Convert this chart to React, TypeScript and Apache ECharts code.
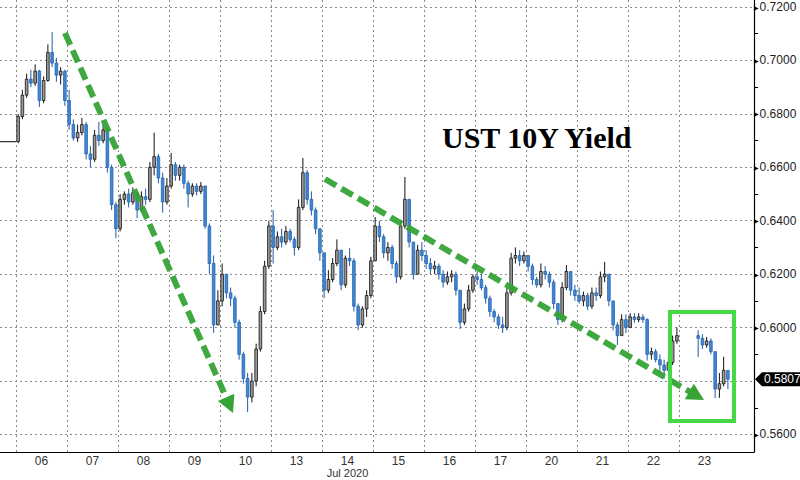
import React, { useEffect, useRef } from 'react';
import * as echarts from 'echarts';

// [close, low, high] per hourly-ish bar; open = previous close. null = no trading.
type Bar = [number, number, number] | null;

const dayLabels = ['06', '07', '08', '09', '10', '13', '14', '15', '16', '17', '20', '21', '22', '23'];
const monthLabel = 'Jul 2020';
const titleText = 'UST 10Y Yield';
const jul03Close = 0.6696;
const lastValue = 0.5807;
const yTicks = [0.56, 0.58, 0.6, 0.62, 0.64, 0.66, 0.68, 0.7, 0.72];
const yMinorTicks = [0.57, 0.59, 0.61, 0.63, 0.65, 0.67, 0.69, 0.71];

const jul06: Bar[] = [
  [0.679, 0.669, 0.68], [0.687, 0.678, 0.689], [0.693, 0.686, 0.695], [0.6915, 0.69, 0.6965],
  [0.696, 0.6905, 0.6985], [0.685, 0.6826, 0.6965], [0.6925, 0.684, 0.694], [0.703, 0.692, 0.706],
  [0.699, 0.6975, 0.7106], [0.6945, 0.692, 0.701], [0.696, 0.691, 0.6975], [0.685, 0.683, 0.6965],
];
const jul07: Bar[] = [
  [0.676, 0.674, 0.689], [0.671, 0.67, 0.678], [0.673, 0.6695, 0.676], [0.676, 0.672, 0.6785],
  [0.665, 0.663, 0.677], [0.663, 0.66, 0.668], [0.672, 0.662, 0.674], [0.67, 0.668, 0.677],
  [0.674, 0.669, 0.676], [0.66, 0.658, 0.675], [0.646, 0.644, 0.661], [0.637, 0.6335, 0.647],
];
const jul08: Bar[] = [
  [0.648, 0.636, 0.65], [0.65, 0.646, 0.651], [0.647, 0.645, 0.652], [0.6505, 0.646, 0.6525],
  [0.644, 0.641, 0.651], [0.649, 0.643, 0.651], [0.648, 0.646, 0.652], [0.66, 0.647, 0.662],
  [0.664, 0.657, 0.673], [0.656, 0.654, 0.665], [0.647, 0.643, 0.658], [0.653, 0.646, 0.656],
];
const jul09: Bar[] = [
  [0.661, 0.652, 0.6654], [0.657, 0.655, 0.662], [0.66, 0.655, 0.661], [0.654, 0.652, 0.661],
  [0.65, 0.645, 0.655], [0.653, 0.649, 0.654], [0.651, 0.6495, 0.654], [0.653, 0.65, 0.6545],
  [0.638, 0.637, 0.653], [0.624, 0.62, 0.639], [0.601, 0.598, 0.627], [0.61, 0.602, 0.614],
];
const jul10: Bar[] = [
  [0.62, 0.608, 0.624], [0.613, 0.611, 0.618], [0.611, 0.608, 0.615], [0.602, 0.6, 0.612],
  [0.59, 0.588, 0.603], [0.581, 0.579, 0.591], [0.574, 0.5684, 0.583], [0.58, 0.572, 0.583],
  [0.592, 0.578, 0.594], [0.606, 0.591, 0.608], [0.623, 0.605, 0.625], [0.638, 0.622, 0.64],
];
const jul13: Bar[] = [
  [0.63, 0.624, 0.644], [0.634, 0.629, 0.636], [0.632, 0.63, 0.637], [0.636, 0.631, 0.638],
  [0.633, 0.632, 0.637], [0.63, 0.627, 0.634], [0.645, 0.629, 0.648], [0.658, 0.644, 0.6635],
  [0.648, 0.646, 0.659], [0.644, 0.642, 0.651], [0.637, 0.635, 0.645], [0.628, 0.625, 0.637],
];
const jul14: Bar[] = [
  [0.614, 0.611, 0.628], [0.618, 0.613, 0.6215], [0.624, 0.617, 0.626], [0.629, 0.623, 0.633],
  [0.616, 0.614, 0.629], [0.626, 0.615, 0.627], [0.625, 0.623, 0.6298], [0.608, 0.606, 0.626],
  [0.601, 0.599, 0.609], [0.607, 0.6, 0.608], [0.612, 0.604, 0.614], [0.625, 0.611, 0.6265],
];
const jul15: Bar[] = [
  [0.638, 0.625, 0.6414], [0.634, 0.632, 0.64], [0.628, 0.626, 0.635], [0.63, 0.625, 0.632],
  [0.624, 0.622, 0.631], [0.619, 0.6167, 0.625], [0.638, 0.618, 0.64], [0.648, 0.637, 0.6564],
  [0.632, 0.63, 0.648], [0.62, 0.618, 0.632], [0.629, 0.62, 0.631], [0.627, 0.625, 0.632],
];
const jul16: Bar[] = [
  [0.624, 0.622, 0.629], [0.622, 0.62, 0.626], [0.623, 0.62, 0.625], [0.62, 0.618, 0.624],
  [0.617, 0.615, 0.6215], [0.619, 0.616, 0.621], [0.62, 0.617, 0.6215], [0.614, 0.612, 0.621],
  [0.602, 0.5995, 0.614], [0.607, 0.601, 0.609], [0.614, 0.606, 0.616], [0.619, 0.613, 0.62],
];
const jul17: Bar[] = [
  [0.618, 0.616, 0.621], [0.615, 0.614, 0.62], [0.611, 0.609, 0.616], [0.606, 0.604, 0.612],
  [0.604, 0.602, 0.607], [0.601, 0.5995, 0.605], [0.6, 0.598, 0.604], [0.613, 0.599, 0.615],
  [0.626, 0.612, 0.628], [0.627, 0.624, 0.63], [0.625, 0.623, 0.629], [0.627, 0.624, 0.6285],
];
const jul20: Bar[] = [
  [0.623, 0.621, 0.627], [0.618, 0.616, 0.624], [0.616, 0.615, 0.619], [0.621, 0.615, 0.624],
  [0.62, 0.618, 0.623], [0.617, 0.615, 0.621], [0.609, 0.607, 0.618], [0.603, 0.601, 0.609],
  [0.615, 0.602, 0.617], [0.621, 0.614, 0.6234], [0.614, 0.612, 0.621], [0.612, 0.61, 0.616],
];
const jul21: Bar[] = [
  [0.61, 0.609, 0.615], [0.612, 0.608, 0.6135], [0.608, 0.6066, 0.613], [0.613, 0.607, 0.615],
  [0.612, 0.61, 0.615], [0.619, 0.611, 0.621], [0.62, 0.617, 0.6246], [0.61, 0.608, 0.62],
  [0.601, 0.599, 0.61], [0.597, 0.5935, 0.602], [0.603, 0.598, 0.605], [0.6, 0.598, 0.605],
];
const jul22: Bar[] = [
  [0.604, 0.6, 0.6054], [0.603, 0.6018, 0.6054], [0.604, 0.602, 0.6054], [0.603, 0.6018, 0.605],
  [0.59, 0.5877, 0.6035], [0.591, 0.588, 0.5925], [0.588, 0.587, 0.592], [0.586, 0.583, 0.59],
  [0.584, 0.581, 0.588], [0.587, 0.584, 0.589], [0.595, 0.586, 0.597], [0.597, 0.594, 0.6],
];
const jul23: Bar[] = [
  null, null, null, null,
  [0.596, 0.589, 0.599], [0.5935, 0.592, 0.5975], [0.595, 0.5925, 0.5965], [0.591, 0.59, 0.596],
  [0.577, 0.5737, 0.59], [0.579, 0.5737, 0.583], [0.584, 0.578, 0.5891], [0.5807, 0.577, 0.584],
];

const allDays: Bar[][] = [jul06, jul07, jul08, jul09, jul10, jul13, jul14, jul15, jul16, jul17, jul20, jul21, jul22, jul23];

function buildCandles(): number[][] {
  const out: number[][] = [];
  let prev = jul03Close;
  allDays.forEach((bars, d) => {
    const n = bars.length;
    bars.forEach((b, i) => {
      if (!b) return;
      const [c, l, h] = b;
      out.push([d + (i + 0.5) / n, prev, c, Math.min(l, prev, c), Math.max(h, prev, c)]);
      prev = c;
    });
  });
  return out;
}

const X_MIN = -1;
const X_MAX = 14.47;
const Y_MIN = 0.55345;
const Y_MAX = 0.72262;

function arrowGraphics(from: number[], to: number[]) {
  const dx = to[0] - from[0];
  const dy = to[1] - from[1];
  const len = Math.sqrt(dx * dx + dy * dy);
  const ux = dx / len;
  const uy = dy / len;
  const headL = 17;
  const headW = 9;
  const bx = to[0] - ux * headL;
  const by = to[1] - uy * headL;
  const px = -uy;
  const py = ux;
  return [
    {
      type: 'line',
      z: 50,
      shape: { x1: from[0], y1: from[1], x2: bx + ux * 2, y2: by + uy * 2 },
      style: { stroke: '#36a336', lineWidth: 6, lineDash: [13, 6], opacity: 0.95 },
    },
    {
      type: 'polygon',
      z: 50,
      shape: {
        points: [
          [to[0], to[1]],
          [bx + px * headW, by + py * headW],
          [bx - px * headW, by - py * headW],
        ],
      },
      style: { fill: '#36a336' },
    },
  ];
}

export default function App() {
  const ref = useRef<HTMLDivElement>(null);

  useEffect(() => {
    document.body.style.margin = '0';
    if (!ref.current) return;
    const chart = echarts.init(ref.current, null, { renderer: 'svg' });
    const candles = buildCandles();
    const gridDays = dayLabels.map((_, i) => i);

    const gridLines: any[] = [
      ...gridDays.map((d) => [{ coord: [d, Y_MIN] }, { coord: [d, Y_MAX] }]),
      ...yTicks.map((v) => [{ coord: [X_MIN, v] }, { coord: [X_MAX, v] }]),
    ];

    const option: any = {
      animation: false,
      backgroundColor: '#ffffff',
      grid: { left: -35, right: 46, top: 0, bottom: 28, containLabel: false, outerBoundsMode: 'none' },
      xAxis: {
        type: 'value',
        min: X_MIN,
        max: X_MAX,
        interval: 1,
        axisLine: { show: true, onZero: false, lineStyle: { color: '#000', width: 1.2 } },
        axisTick: { show: false },
        splitLine: { show: false },
        axisLabel: {
          show: true,
          showMinLabel: true,
          showMaxLabel: true,
          margin: 2,
          padding: [0, 0, 0, 51],
          fontFamily: 'Liberation Sans Narrow, Liberation Sans, Arial',
          fontSize: 12,
          color: '#333',
          lineHeight: 13,
          formatter: (v: number) => {
            if (Math.abs(v - Math.round(v)) > 1e-6) return '';
            const i = Math.round(v);
            const lab = dayLabels[i];
            if (lab === undefined) return '';
            return i === 6 ? '{d|' + lab + '}\n{m|' + monthLabel + '}' : lab;
          },
          rich: {
            d: { fontSize: 12, lineHeight: 13, color: '#333', fontFamily: 'Liberation Sans Narrow, Liberation Sans, Arial' },
            m: { fontSize: 11, lineHeight: 12, color: '#333', fontFamily: 'Liberation Sans Narrow, Liberation Sans, Arial' },
          },
        },
      },
      yAxis: [
        {
          type: 'value',
          position: 'right',
          min: Y_MIN,
          max: Y_MAX,
          splitNumber: 8,
          axisLine: { show: true, onZero: false, lineStyle: { color: '#000', width: 1.2 } },
          axisTick: { show: false },
          splitLine: { show: false },
          axisLabel: {
            show: true,
            customValues: yTicks,
            margin: 0,
            formatter: (v: number) => {
              if (Math.abs(v - 0.58) < 1e-6) return '';
              const near = yTicks.some((t) => Math.abs(t - v) < 1e-6);
              if (!near) return '';
              return '{t|▶}{v|' + v.toFixed(4) + '}';
            },
            rich: {
              t: { fontSize: 6, color: '#000', fontFamily: 'DejaVu Sans', padding: [0, 1, 0, 0] },
              v: { fontSize: 12, color: '#222', fontFamily: 'Liberation Sans, Arial' },
            },
          },
        },
        {
          type: 'value',
          position: 'right',
          min: Y_MIN,
          max: Y_MAX,
          axisLine: { show: false, onZero: false },
          axisLabel: { show: false },
          splitLine: { show: false },
          axisTick: { show: true, length: 4, customValues: yMinorTicks, lineStyle: { color: '#000', width: 1 } },
        },
      ],
      series: [
        {
          type: 'line',
          name: 'grid',
          z: 1,
          data: [],
          symbol: 'none',
          silent: true,
          markLine: {
            silent: true,
            symbol: ['none', 'none'],
            label: { show: false },
            animation: false,
            lineStyle: { type: [2, 3], color: '#8a8a8a', width: 1 },
            emphasis: { disabled: true },
            data: gridLines,
          },
        },
        {
          type: 'line',
          name: 'Jul03',
          z: 2,
          data: [[X_MIN, jul03Close], [0, jul03Close]],
          symbol: 'none',
          lineStyle: { color: '#333', width: 1.2 },
          silent: true,
        },
        {
          type: 'custom',
          name: 'UST 10Y',
          z: 5,
          clip: true,
          encode: { x: 0, y: [1, 2, 3, 4] },
          data: candles,
          renderItem: (params: any, api: any) => {
            const x = api.value(0);
            const o = api.value(1);
            const c = api.value(2);
            const l = api.value(3);
            const h = api.value(4);
            const pO = api.coord([x, o]);
            const pC = api.coord([x, c]);
            const pL = api.coord([x, l]);
            const pH = api.coord([x, h]);
            const w = api.size([1 / 12, 0])[0] * 0.62;
            const up = c >= o;
            const top = Math.min(pO[1], pC[1]);
            const bh = Math.max(1, Math.abs(pO[1] - pC[1]));
            return {
              type: 'group',
              children: [
                {
                  type: 'line',
                  shape: { x1: pL[0], y1: pL[1], x2: pH[0], y2: pH[1] },
                  style: { stroke: up ? '#111' : '#1d5ca6', lineWidth: 1 },
                },
                {
                  type: 'rect',
                  shape: { x: pO[0] - w / 2, y: top, width: w, height: bh },
                  style: {
                    fill: up ? '#9c9c9c' : '#3f88d8',
                    stroke: up ? '#111' : '#2563ad',
                    lineWidth: 0.8,
                  },
                },
              ],
            };
          },
        },
      ],
    };

    chart.setOption(option);

    const tagY = chart.convertToPixel({ yAxisIndex: 0 }, lastValue) as number;

    const graphics: any[] = [
      ...arrowGraphics([65, 33], [233, 413]),
      ...arrowGraphics([325, 179], [704, 400]),
      {
        type: 'rect',
        z: 60,
        shape: { x: 670, y: 312, width: 64, height: 109 },
        style: { fill: 'none', stroke: '#46d846', lineWidth: 4 },
      },
      {
        type: 'text',
        z: 60,
        x: 442,
        y: 137,
        style: {
          text: titleText,
          font: 'bold 30px "Liberation Serif", "Times New Roman", serif',
          fill: '#000',
          verticalAlign: 'middle',
          align: 'left',
        },
      },
      {
        type: 'polygon',
        z: 70,
        shape: {
          points: [
            [755, tagY],
            [762, tagY - 7],
            [800, tagY - 7],
            [800, tagY + 7],
            [762, tagY + 7],
          ],
        },
        style: { fill: '#000' },
      },
      {
        type: 'text',
        z: 71,
        x: 764,
        y: tagY,
        style: {
          text: lastValue.toFixed(4),
          font: '12px "Liberation Sans", Arial, sans-serif',
          fill: '#fff',
          verticalAlign: 'middle',
          align: 'left',
        },
      },
    ];
    chart.setOption({ graphic: graphics });

    return () => {
      chart.dispose();
    };
  }, []);

  return <div ref={ref} style={{ width: 800, height: 480 }} />;
}
